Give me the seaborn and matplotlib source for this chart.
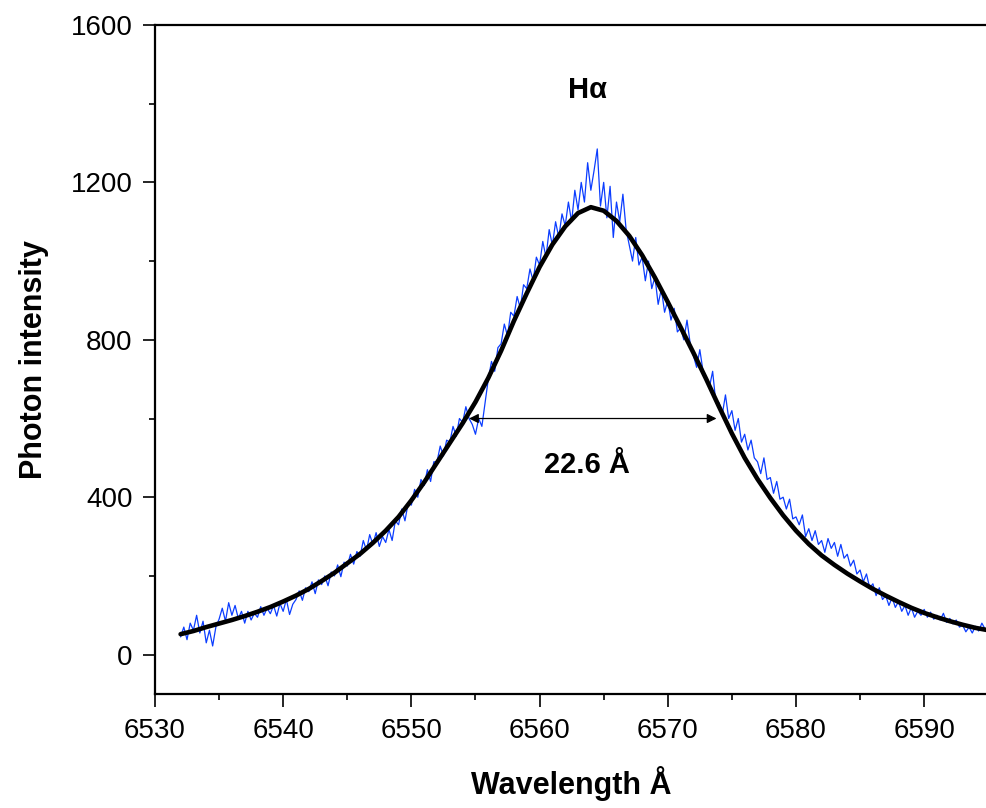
"""H-alpha line profile: measured spectrum with fitted profile and FWHM marker."""

import matplotlib

matplotlib.use("Agg")
import matplotlib.pyplot as plt
import numpy as np
import pandas as pd
import seaborn as sns

# measured spectrum, sampled every 0.25 A from 6532.00
spec_start = 6532.0
spec_step = 0.25
spec_counts = [
    45, 70, 38, 80, 62, 100, 55, 85, 30, 62, 22, 70, 90, 118, 85, 132, 100, 125, 92, 110,
    80, 110, 88, 105, 95, 122, 100, 118, 104, 125, 98, 130, 110, 140, 102, 128, 140, 162, 138, 170,
    160, 185, 155, 190, 178, 200, 175, 210, 200, 228, 198, 235, 225, 255, 230, 262, 250, 290, 265, 305,
    280, 310, 275, 300, 285, 318, 290, 340, 330, 370, 340, 385, 380, 420, 400, 445, 430, 470, 440, 490,
    490, 530, 505, 545, 540, 580, 555, 600, 590, 630, 600, 585, 560, 600, 580, 640, 700, 745, 720, 780,
    790, 840, 810, 870, 860, 910, 880, 940, 930, 980, 950, 1010, 990, 1050, 1010, 1080, 1040, 1100, 1060, 1120,
    1090, 1150, 1100, 1180, 1130, 1200, 1150, 1250, 1180, 1230, 1285, 1140, 1200, 1110, 1190, 1060, 1150, 1100, 1170, 1080,
    1040, 1000, 1060, 990, 1010, 950, 1000, 930, 960, 890, 930, 870, 900, 850, 880, 820, 830, 800, 850, 790,
    760, 730, 775, 720, 700, 680, 720, 640, 640, 610, 660, 600, 620, 570, 600, 540, 560, 520, 545, 500,
    490, 460, 500, 445, 450, 410, 440, 395, 400, 370, 395, 345, 350, 330, 355, 300, 320, 290, 315, 280,
    290, 260, 295, 270, 285, 250, 280, 245, 255, 225, 240, 205, 215, 185, 205, 170, 180, 150, 170, 140,
    150, 125, 145, 120, 135, 110, 125, 100, 120, 95, 110, 100, 115, 95, 108, 90, 100, 88, 105, 82,
    92, 78, 88, 70, 75, 58, 70, 55, 72, 60, 80, 65,
]

# fitted profile, every 1 A from 6532
fit_start = 6532
fit_counts = [
    52, 60, 70, 79, 88, 98, 109, 121, 135, 150,
    167, 187, 208, 232, 256, 284, 315, 350, 392, 438,
    488, 538, 588, 642, 703, 772, 848, 918, 985, 1042,
    1088, 1122, 1137, 1128, 1102, 1064, 1015, 958, 896, 832,
    767, 700, 630, 562, 500, 446, 398, 354, 315, 281,
    252, 228, 206, 186, 167, 150, 134, 119, 106, 95,
    85, 76, 68, 62,
]

fwhm_left, fwhm_right, fwhm_level = 6554.5, 6573.8, 600
fwhm_label = "22.6 Å"
line_label = "Hα"

spec = pd.DataFrame({
    "wavelength": spec_start + spec_step * np.arange(len(spec_counts)),
    "counts": spec_counts,
})
fit = pd.DataFrame({
    "wavelength": fit_start + np.arange(len(fit_counts)),
    "counts": fit_counts,
})

sns.set_theme(style="ticks")
plt.rcParams["font.family"] = ["Liberation Sans", "DejaVu Sans"]
plt.rcParams.update({
    "text.color": "black",
    "axes.labelcolor": "black",
    "xtick.color": "black",
    "ytick.color": "black",
})

fig = plt.figure(figsize=(9.87, 8.08), dpi=100)
ax = fig.add_axes([0.157, 0.1411, 0.843, 0.828])

sns.lineplot(data=spec, x="wavelength", y="counts", ax=ax, color="#0b3dff",
             linewidth=0.9, estimator=None, sort=False)
sns.lineplot(data=fit, x="wavelength", y="counts", ax=ax, color="black",
             linewidth=3.3, estimator=None, sort=False)

ax.annotate("", xy=(fwhm_right, fwhm_level), xytext=(fwhm_left, fwhm_level),
            arrowprops=dict(arrowstyle="<|-|>", color="black", lw=0.9,
                            mutation_scale=14, shrinkA=0, shrinkB=0))
ax.text(6563.7, 483, fwhm_label, ha="center", va="center", fontsize=21, fontweight="bold")
ax.text(6563.7, 1436, line_label, ha="center", va="center", fontsize=21, fontweight="bold")

ax.set_xlim(6530, 6594.9)
ax.set_ylim(-100, 1600)
ax.set_xticks(np.arange(6530, 6591, 10))
ax.set_xticks(np.arange(6535, 6595, 10), minor=True)
ax.set_yticks(np.arange(0, 1601, 400))
ax.set_yticks(np.arange(200, 1600, 400), minor=True)

ax.set_xlabel("Wavelength Å", fontsize=22, fontweight="bold", labelpad=16)
ax.set_ylabel("Photon intensity", fontsize=22, fontweight="bold", labelpad=16)

ax.spines["right"].set_visible(False)
for side in ("left", "bottom", "top"):
    ax.spines[side].set_linewidth(1.6)
    ax.spines[side].set_color("black")
ax.tick_params(which="major", direction="out", length=9, width=1.2,
               labelsize=20, pad=8)
ax.tick_params(which="minor", direction="out", length=4.5, width=1.2)
ax.tick_params(axis="y", pad=7)

fig.savefig("out.png", dpi=100)
